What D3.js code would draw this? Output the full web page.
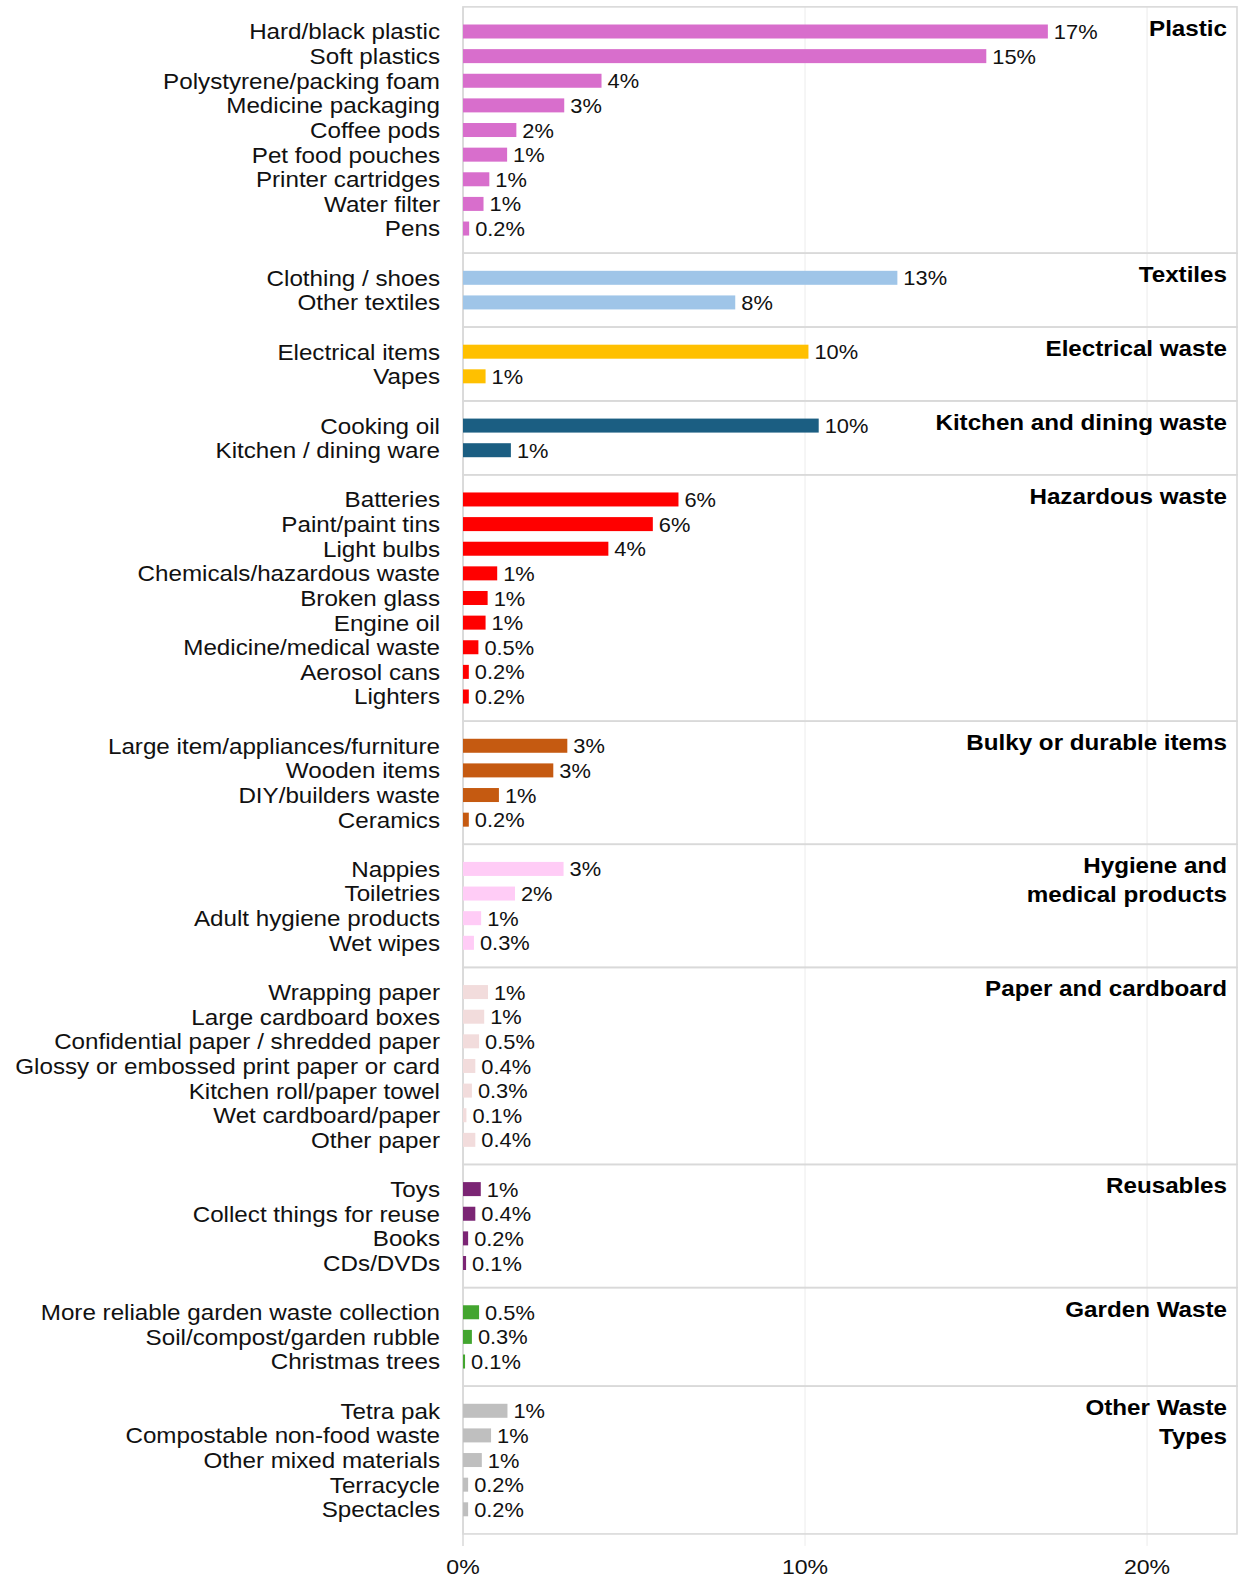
<!DOCTYPE html>
<html>
<head>
<meta charset="utf-8">
<script src="https://cdn.jsdelivr.net/npm/d3@7"></script>
<style>
  html, body { margin: 0; padding: 0; background: #fff; }
  svg text { font-family: "Liberation Sans", Arial, Helvetica, sans-serif; }
</style>
</head>
<body>
<svg id="chart" width="1246" height="1580"></svg>
<script>
// ---------- DATA ----------
const groupNames = ["Plastic", "Textiles", "Electrical waste", "Kitchen and dining waste",
  "Hazardous waste", "Bulky or durable items", "Hygiene and|medical products",
  "Paper and cardboard", "Reusables", "Garden Waste", "Other Waste|Types"];

const plasticItems = ["Hard/black plastic", "Soft plastics", "Polystyrene/packing foam", "Medicine packaging",
  "Coffee pods", "Pet food pouches", "Printer cartridges", "Water filter", "Pens"];
const plasticValues = [17.1, 15.3, 4.05, 2.96, 1.56, 1.29, 0.77, 0.6, 0.18];
const plasticLabels = ["17%", "15%", "4%", "3%", "2%", "1%", "1%", "1%", "0.2%"];

const textilesItems = ["Clothing / shoes", "Other textiles"];
const textilesValues = [12.7, 7.96];
const textilesLabels = ["13%", "8%"];

const electricalItems = ["Electrical items", "Vapes"];
const electricalValues = [10.1, 0.66];
const electricalLabels = ["10%", "1%"];

const kitchenItems = ["Cooking oil", "Kitchen / dining ware"];
const kitchenValues = [10.4, 1.4];
const kitchenLabels = ["10%", "1%"];

const hazardousItems = ["Batteries", "Paint/paint tins", "Light bulbs", "Chemicals/hazardous waste",
  "Broken glass", "Engine oil", "Medicine/medical waste", "Aerosol cans", "Lighters"];
const hazardousValues = [6.3, 5.55, 4.25, 1.0, 0.72, 0.66, 0.45, 0.17, 0.17];
const hazardousLabels = ["6%", "6%", "4%", "1%", "1%", "1%", "0.5%", "0.2%", "0.2%"];

const bulkyItems = ["Large item/appliances/furniture", "Wooden items", "DIY/builders waste", "Ceramics"];
const bulkyValues = [3.05, 2.64, 1.05, 0.17];
const bulkyLabels = ["3%", "3%", "1%", "0.2%"];

const hygieneItems = ["Nappies", "Toiletries", "Adult hygiene products", "Wet wipes"];
const hygieneValues = [2.94, 1.52, 0.53, 0.32];
const hygieneLabels = ["3%", "2%", "1%", "0.3%"];

const paperItems = ["Wrapping paper", "Large cardboard boxes", "Confidential paper / shredded paper",
  "Glossy or embossed print paper or card", "Kitchen roll/paper towel", "Wet cardboard/paper", "Other paper"];
const paperValues = [0.73, 0.62, 0.47, 0.36, 0.26, 0.1, 0.36];
const paperLabels = ["1%", "1%", "0.5%", "0.4%", "0.3%", "0.1%", "0.4%"];

const reusablesItems = ["Toys", "Collect things for reuse", "Books", "CDs/DVDs"];
const reusablesValues = [0.52, 0.36, 0.15, 0.09];
const reusablesLabels = ["1%", "0.4%", "0.2%", "0.1%"];

const gardenItems = ["More reliable garden waste collection", "Soil/compost/garden rubble", "Christmas trees"];
const gardenValues = [0.47, 0.26, 0.06];
const gardenLabels = ["0.5%", "0.3%", "0.1%"];

const otherItems = ["Tetra pak", "Compostable non-food waste", "Other mixed materials", "Terracycle", "Spectacles"];
const otherValues = [1.3, 0.82, 0.55, 0.15, 0.15];
const otherLabels = ["1%", "1%", "1%", "0.2%", "0.2%"];

const xTicks = [0, 10, 20];
const xTickLabels = ["0%", "10%", "20%"];

const groupColors = ["#d86ecc", "#9fc5e8", "#ffc000", "#1b5e82", "#ff0000", "#c55a11",
  "#ffccf6", "#f2dcdc", "#7b2574", "#43a52f", "#bfbfbf"];

// ---------- BUILD ----------
const groupItems = [plasticItems, textilesItems, electricalItems, kitchenItems, hazardousItems, bulkyItems,
  hygieneItems, paperItems, reusablesItems, gardenItems, otherItems];
const groupValues = [plasticValues, textilesValues, electricalValues, kitchenValues, hazardousValues, bulkyValues,
  hygieneValues, paperValues, reusablesValues, gardenValues, otherValues];
const groupLabels = [plasticLabels, textilesLabels, electricalLabels, kitchenLabels, hazardousLabels, bulkyLabels,
  hygieneLabels, paperLabels, reusablesLabels, gardenLabels, otherLabels];

const rows = [];
const panels = [];
let slot = 0;
groupNames.forEach((g, gi) => {
  const first = slot;
  groupItems[gi].forEach((name, i) => {
    rows.push({ group: gi, name, value: groupValues[gi][i], label: groupLabels[gi][i], slot });
    slot++;
  });
  panels.push({ name: g, gi, first, last: slot - 1 });
  slot++; // gap slot between panels
});
const lastSlot = slot - 2;

const svg = d3.select("#chart");

const x = d3.scaleLinear().domain([0, 22.63]).range([463, 1237]);
const y = d3.scaleLinear().domain([0, lastSlot]).range([31.5, 1509.3]);
const barH = 14;
const labelX = 440;
const stretch = 1.1;

const chartTop = y(-1);
const chartBottom = y(lastSlot + 1);

// gridlines (extend a little below the panels)
svg.append("g").selectAll("line").data(xTicks).join("line")
  .attr("x1", d => x(d)).attr("x2", d => x(d))
  .attr("y1", chartTop).attr("y2", chartBottom + 12)
  .attr("stroke", d => d === 0 ? "#d9d9d9" : "#ececec")
  .attr("stroke-width", d => d === 0 ? 1.5 : 1);

// panels
svg.append("g").selectAll("rect").data(panels).join("rect")
  .attr("x", x(0))
  .attr("y", p => y(p.first - 1))
  .attr("width", x.range()[1] - x(0))
  .attr("height", p => y(p.last + 1) - y(p.first - 1))
  .attr("fill", "none")
  .attr("stroke", "#d9d9d9")
  .attr("stroke-width", 1.6);

// bars
svg.append("g").selectAll("rect").data(rows).join("rect")
  .attr("x", x(0))
  .attr("y", d => y(d.slot) - barH / 2)
  .attr("width", d => x(d.value) - x(0))
  .attr("height", barH)
  .attr("fill", d => groupColors[d.group]);

// value labels
svg.append("g").selectAll("text").data(rows).join("text")
  .attr("transform", d => `translate(${x(d.value) + 6},${y(d.slot)}) scale(1.04,1)`)
  .attr("dy", "0.36em")
  .attr("font-size", 21)
  .attr("fill", "#111")
  .text(d => d.label);

// category labels
svg.append("g").selectAll("text").data(rows).join("text")
  .attr("transform", d => `translate(${labelX},${y(d.slot)}) scale(${stretch},1)`)
  .attr("dy", "0.36em")
  .attr("text-anchor", "end")
  .attr("font-size", 22)
  .attr("fill", "#111")
  .text(d => d.name);

// panel titles
const titles = svg.append("g").selectAll("g").data(panels).join("g");
titles.each(function(p) {
  const lines = p.name.split("|");
  const top = y(p.first - 1);
  d3.select(this).selectAll("text").data(lines).join("text")
    .attr("transform", (l, i) => `translate(1227,${top + 21 + i * 28.5}) scale(${stretch},1)`)
    .attr("dy", "0.36em")
    .attr("text-anchor", "end")
    .attr("font-size", 22)
    .attr("font-weight", "bold")
    .attr("fill", "#000")
    .text(l => l);
});

// x axis labels
svg.append("g").selectAll("text").data(xTicks).join("text")
  .attr("transform", (d) => `translate(${x(d)},1566) scale(${stretch},1)`)
  .attr("dy", "0.36em")
  .attr("text-anchor", "middle")
  .attr("font-size", 21)
  .attr("fill", "#111")
  .text((d, i) => xTickLabels[i]);
</script>
</body>
</html>
